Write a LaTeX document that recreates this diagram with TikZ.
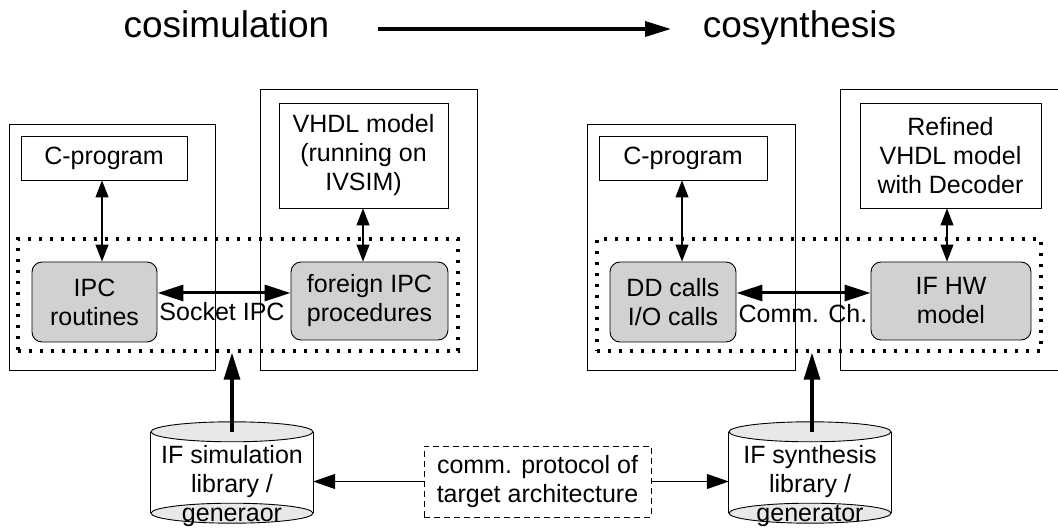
\documentclass[tikz,border=0pt]{standalone}
\usepackage{fontspec}
\setmainfont{Liberation Sans}
\usetikzlibrary{arrows.meta}
\definecolor{procgray}{gray}{0.82}
\definecolor{capgray}{gray}{0.91}
\newcommand\bodyfont{\fontsize{25}{29}\selectfont}
\newcommand\headfont{\fontsize{37}{44}\selectfont}
\begin{document}
\begin{tikzpicture}[x=1pt,y=-1pt,
  every node/.style={font=\bodyfont, inner sep=0pt},
  sz/.style 2 args={minimum width=#1pt, minimum height=#2pt},
  outerbox/.style={draw, line width=0.9pt},
  textbox/.style={draw, line width=0.9pt, align=center},
  procbox/.style={textbox, fill=procgray, rounded corners=10pt},
  dotframe/.style={draw, line width=3.3pt, dash pattern=on 3.3pt off 7.7pt},
  protobox/.style={draw, line width=0.8pt, dash pattern=on 6pt off 4pt, align=center},
  cylline/.style={line width=0.9pt},
  link/.style={line width=1.2pt, {Triangle[length=17pt,width=13pt]}-{Triangle[length=17pt,width=13pt]}},
  bus/.style={line width=3pt, {Triangle[length=26pt,width=16pt]}-{Triangle[length=26pt,width=16pt]}},
  feed/.style={line width=3.2pt, -{Triangle[length=27pt,width=16pt]}},
  libflow/.style={line width=1.1pt, -{Triangle[length=22pt,width=15pt]}},
]
\useasboundingbox (0,0) rectangle (1058,529);
\fill[white] (0,0) rectangle (1058,529);

% heading: cosimulation -> cosynthesis
\node[font=\headfont, anchor=base] (cosim) at (226.5,38) {cosimulation};
\node[font=\headfont, anchor=base] (cosyn) at (799.5,38) {cosynthesis};
\coordinate (flowA) at (378,29);
\coordinate (flowB) at (671,29);
\draw[line width=3.5pt, -{Triangle[length=26pt,width=15pt]}] (flowA) -- (flowB);

% ---------- cosimulation side ----------
\node[outerbox, sz={206}{246}] (hostL) at (112,247) {};
\node[outerbox, sz={217}{281}] (simL) at (368.5,229.5) {};
\node[dotframe, sz={440}{112}] (ifL) at (238,295) {};
\node[textbox, sz={166}{44}] (cprogL) at (104,158) {C-program};
\node[textbox, sz={169}{105}] (vhdlL) at (363.5,155.5) {VHDL model\\(running on\\IVSIM)};
\node[procbox, sz={125}{80}] (ipcL) at (94.5,302) {IPC\\routines};
\node[procbox, sz={157}{78}] (fipcL) at (369.5,301) {foreign IPC\\procedures};

\draw[link] ([xshift=-2pt]cprogL.south) -- ([xshift=-2pt]cprogL.south |- ipcL.north);
\draw[link] ([xshift=-0.5pt]vhdlL.south) -- ([xshift=-0.5pt]vhdlL.south |- fipcL.north);
\draw[bus] ([yshift=9pt]ipcL.east) -- ([yshift=9pt]ipcL.east -| fipcL.west);
\node[anchor=base] (sockLbl) at (222,321) {Socket IPC};

% ---------- cosynthesis side ----------
\node[outerbox, sz={208}{246}] (hostR) at (691,247) {};
\node[outerbox, sz={222}{281}] (simR) at (951,229.5) {};
\node[dotframe, sz={444}{112}] (ifR) at (819,295) {};
\node[textbox, sz={168}{44}] (cprogR) at (683,158) {C-program};
\node[textbox, sz={181}{105}] (vhdlR) at (950.5,155.5) {Refined\\VHDL model\\with Decoder};
\node[procbox, sz={126}{80}] (ddR) at (673,302) {DD calls\\I/O calls};
\node[procbox, sz={160}{78}] (hwR) at (951,301) {IF HW\\model};

\draw[link] ([xshift=-1pt]cprogR.south) -- ([xshift=-1pt]cprogR.south |- ddR.north);
\draw[link] ([xshift=-3.5pt]vhdlR.south) -- ([xshift=-3.5pt]vhdlR.south |- hwR.north);
\draw[bus] ([yshift=9pt]ddR.east) -- ([yshift=9pt]ddR.east -| hwR.west);
\node[anchor=base] (commLbl) at (803,323) {Comm. Ch.};

% ---------- libraries (cylinders) ----------
\node[sz={162}{81}] (libL) at (232,472.5) {};
\node[sz={162}{81}] (libR) at (810,472.5) {};
\foreach \lib in {libL,libR}{
  \fill[white] (\lib.north west) rectangle (\lib.south east);
  \draw[cylline] (\lib.north west) -- (\lib.south west)
                 (\lib.north east) -- (\lib.south east);
  \draw[cylline, fill=capgray] (\lib.north) ellipse [x radius=81pt, y radius=10pt];
  \draw[cylline, fill=capgray] (\lib.south) ellipse [x radius=81pt, y radius=10pt];
}
\node[align=center] (libLtxt) at (232,486) {IF simulation\\library /\\generaor};
\node[align=center] (libRtxt) at (810,486) {IF synthesis\\library /\\generator};

\draw[feed] (libL.north) -- (libL.north |- ifL.south);
\draw[feed] ([xshift=2pt]libR.north) -- ([xshift=2pt]libR.north |- ifR.south);

% ---------- communication protocol ----------
\node[protobox, sz={227}{71}] (proto) at (537.5,481.5) {comm. protocol of\\target architecture};
\draw[libflow] (proto.west) -- (proto.west -| libL.east);
\draw[libflow] (proto.east) -- (proto.east -| libR.west);
\end{tikzpicture}
\end{document}
